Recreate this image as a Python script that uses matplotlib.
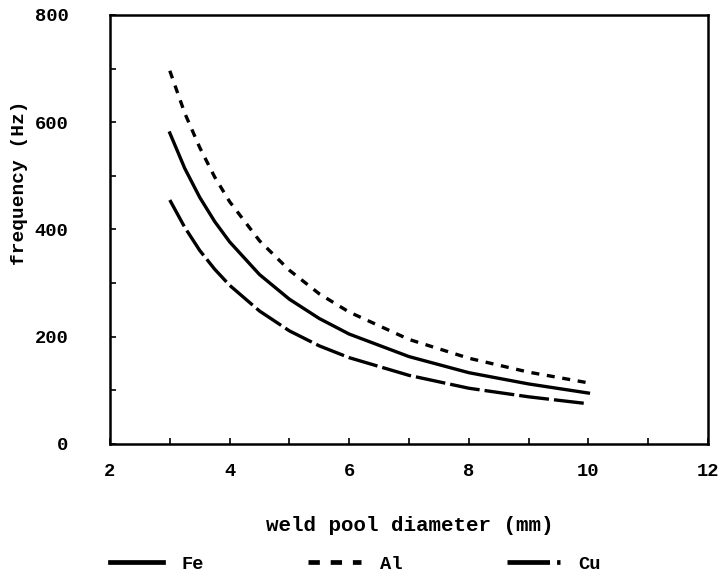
import matplotlib
matplotlib.use("Agg")
import matplotlib.pyplot as plt
from matplotlib.ticker import MultipleLocator

# weld pool diameter (mm)
diameter = [3.0, 3.25, 3.5, 3.75, 4.0, 4.5, 5.0, 5.5, 6.0, 7.0, 8.0, 9.0, 10.0]
# frequency (Hz)
freq_fe = [580, 514, 460, 415, 377, 316, 270, 234, 205, 163, 133, 112, 95]
freq_al = [696, 617, 553, 498, 452, 379, 324, 280, 246, 195, 160, 134, 114]
freq_cu = [455, 404, 361, 326, 296, 248, 211, 183, 161, 128, 104, 88, 75]

xticks = [2, 4, 6, 8, 10, 12]
yticks = [0, 200, 400, 600, 800]

plt.rcParams['font.family'] = ['Liberation Mono', 'DejaVu Sans Mono']
plt.rcParams['font.weight'] = 'bold'

fig = plt.figure(figsize=(7.23, 5.77), dpi=100)
ax = fig.add_axes([110/723, 1-444/577, 598/723, 429/577])

ax.plot(diameter, freq_fe, color='black', lw=2.4, label='Fe')
ax.plot(diameter, freq_al, color='black', lw=2.4, dashes=(2.4, 2.3), label='Al')
ax.plot(diameter, freq_cu, color='black', lw=2.4, dashes=(9.0, 1.5), label='Cu')

ax.set_xlim(2, 12)
ax.set_ylim(0, 800)
ax.set_xticks(xticks)
ax.set_yticks(yticks)
ax.xaxis.set_minor_locator(MultipleLocator(1))
ax.yaxis.set_minor_locator(MultipleLocator(100))
ax.tick_params(which='both', direction='in', length=4, width=1.2,
               top=False, right=False, labelsize=13.5)
ax.tick_params(axis='x', which='major', pad=14)
ax.tick_params(axis='y', which='major', pad=30)
for s in ax.spines.values():
    s.set_linewidth(1.8)

ax.set_xlabel('weld pool diameter (mm)', fontsize=15, fontweight='bold')
ax.set_ylabel('frequency (Hz)', fontsize=14, fontweight='bold')
ax.xaxis.set_label_coords(0.502, -0.168)
ax.yaxis.set_label_coords(-0.137, 0.608)

leg = fig.legend(loc='center left', bbox_to_anchor=(110/723, 1-564/577),
                 ncol=3, frameon=False, fontsize=13.5, handlelength=2.83,
                 handletextpad=1.0, columnspacing=5.55, borderpad=0,
                 borderaxespad=0)
for h in leg.get_lines():
    h.set_linewidth(3.4)

fig.savefig('out.png', dpi=100)
